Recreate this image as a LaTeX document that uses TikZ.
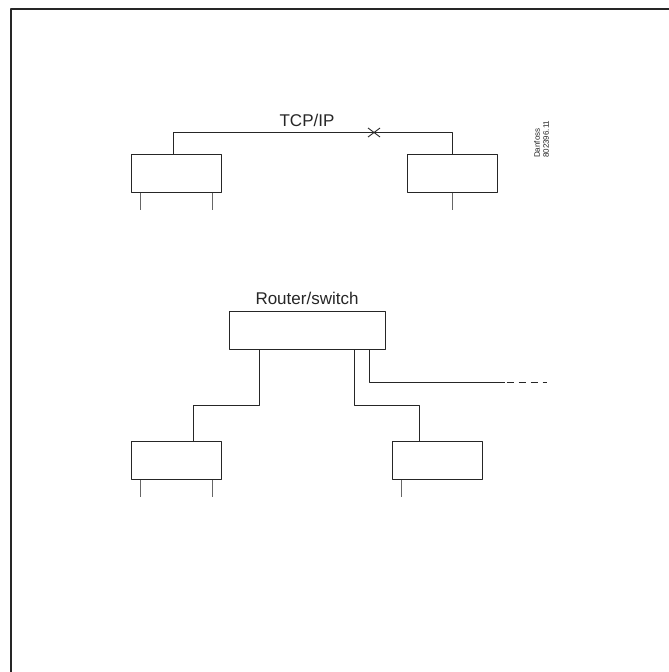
\documentclass[tikz,border=0pt]{standalone}
\usepackage{fontspec}
\setmainfont{Liberation Sans}
\usetikzlibrary{positioning}
\begin{document}
\begin{tikzpicture}[x=1pt,y=-1pt,line join=round,line cap=butt,
    wire/.style={draw=black!85,line width=0.9pt},
    pc/.style={draw=black!85,line width=1pt,minimum width=90pt,minimum height=38pt,inner sep=0pt},
    router/.style={pc,minimum width=156pt},
    leg/.style={draw=black!60,line width=0.8pt},
    lbl/.style={text=black!85,font=\fontsize{17}{20}\selectfont,inner sep=0pt}]
    \useasboundingbox (0,0) rectangle (669,672);
    % frame (only left and top edge are visible)
    \draw[black!85,line width=1.3pt] (11,700) |- (700,9);
    % --- TCP/IP link ---
    \node[pc] (pcA) at (176,173) {};
    \node[pc] (pcB) at (452,173) {};
    \node[lbl] (tcp) at (307,120) {TCP/IP};
    \coordinate (bus) at (307,132.5);
    \coordinate (cut) at (374,132.5);
    \draw[wire] ([xshift=-3pt]pcA.north) |- (bus) -| (pcB.north);
    \draw[wire] (cut) +(-6,-4.5) -- +(6,4.5) +(-6,4.5) -- +(6,-4.5);
    \draw[leg] ([xshift=-35.5pt]pcA.south) -- ++(0,17) ([xshift=36pt]pcA.south) -- ++(0,17);
    \draw[leg] (pcB.south) -- ++(0,17);
    \node[rotate=90,anchor=north west,align=left,inner sep=0pt,text=black!85,
        font=\fontsize{8}{9}\selectfont] (code) at (534,158) {Danfoss\\802396.11};
    % --- via router/switch ---
    \node[router] (sw) at (307,330) {};
    \node[lbl] (swlbl) at (307,298) {Router/switch};
    \node[pc] (pcC) at (176,460.5) {};
    \node[pc] (pcD) at (437,460.5) {};
    \coordinate (lan) at (505,382.5);
    \draw[wire] ([xshift=-47.5pt]sw.south) -- ++(0,55.5) -| ([xshift=17pt]pcC.north);
    \draw[wire] ([xshift=47.5pt]sw.south) -- ++(0,55.5) -| ([xshift=-17.5pt]pcD.north);
    \draw[wire] ([xshift=62.5pt]sw.south) |- (lan);
    \draw[wire,dash pattern=on 7pt off 5pt,dash phase=10.3pt] (lan) -- ++(42,0);
    \draw[leg] ([xshift=-35.5pt]pcC.south) -- ++(0,17) ([xshift=36pt]pcC.south) -- ++(0,17);
    \draw[leg] ([xshift=-36pt]pcD.south) -- ++(0,17);
\end{tikzpicture}
\end{document}
